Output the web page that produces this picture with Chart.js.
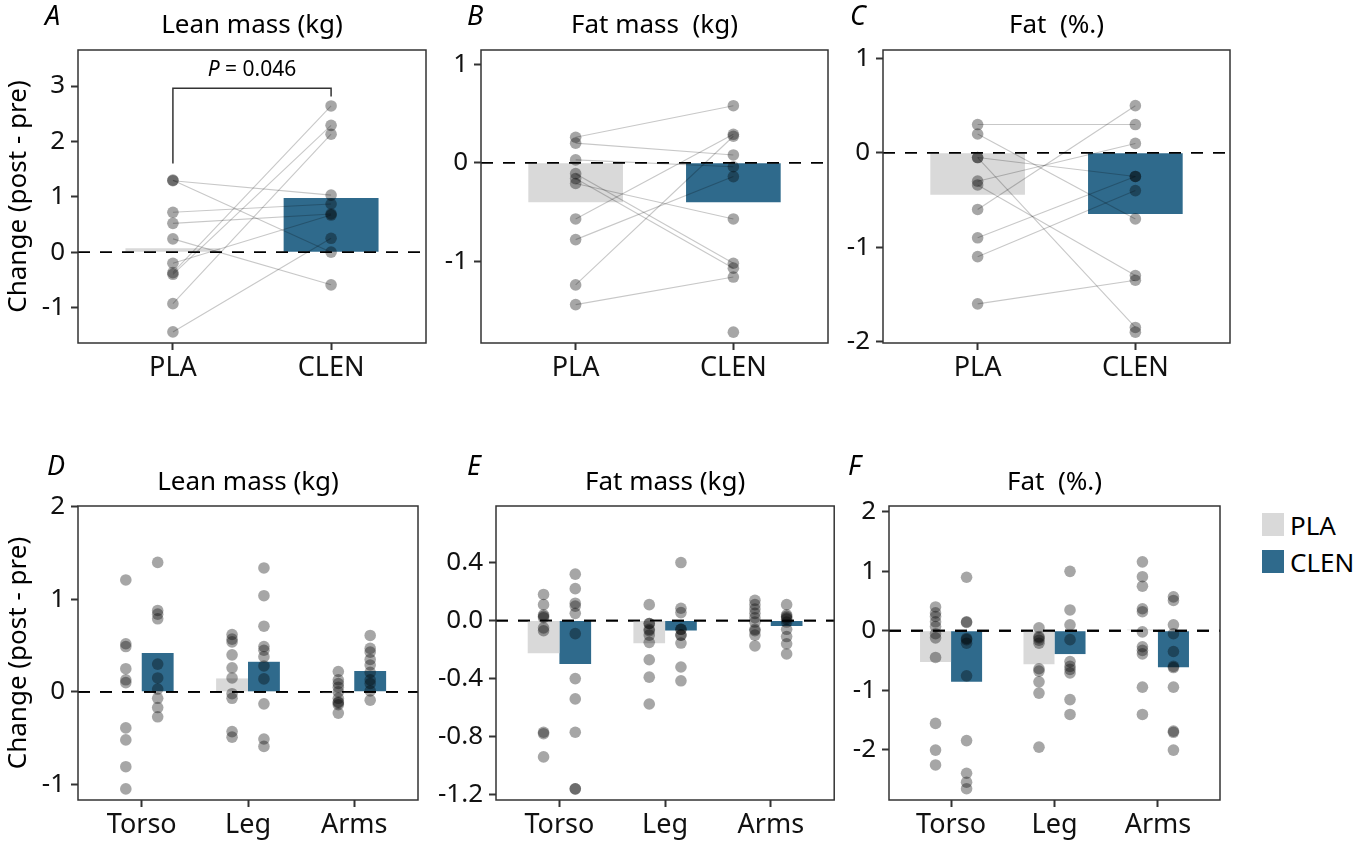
<!DOCTYPE html>
<html>
<head>
<meta charset="utf-8">
<title>Change in body composition, PLA vs CLEN</title>
<script src="https://cdn.jsdelivr.net/npm/chart.js@4.4.1/dist/chart.umd.min.js"></script>
<style>
  body { margin: 0; background: #fff; font-family: 'Noto Sans', sans-serif; }
  #page { position: relative; width: 1367px; height: 843px; overflow: hidden; }
  #page canvas { position: absolute; }
  .legend { position: absolute; left: 1262px; top: 513px; font-size: 26px; color: #000; }
  .legend .row { display: flex; align-items: center; height: 23px; margin-bottom: 14px; }
  .legend .key { width: 22px; height: 23px; margin-right: 6px; }
</style>
</head>
<body>
<div id="page">
  <canvas id="panelA" width="435" height="400" style="left:0px;top:0px"></canvas>
  <canvas id="panelB" width="400" height="400" style="left:435px;top:0px"></canvas>
  <canvas id="panelC" width="405" height="400" style="left:835px;top:0px"></canvas>
  <canvas id="panelD" width="430" height="403" style="left:0px;top:440px"></canvas>
  <canvas id="panelE" width="410" height="403" style="left:430px;top:440px"></canvas>
  <canvas id="panelF" width="390" height="403" style="left:840px;top:440px"></canvas>
  <div class="legend">
    <div class="row"><span class="key" style="background:#d9d9d9"></span>PLA</div>
    <div class="row"><span class="key" style="background:#2f6a8c"></span>CLEN</div>
  </div>
</div>
<script>
// groups and regions
const groups = ['PLA', 'CLEN'];
const regions = ['Torso', 'Leg', 'Arms'];

// whole body, paired by subject (null = no value)
const leanPla  = [1.29, 1.30, 0.72, 0.52, 0.24, -0.20, -0.37, -0.40, -0.93, -1.44];
const leanClen = [1.03, 0.00, 0.87, 0.69, -0.59, 0.67, 2.64, 2.29, 2.13, 0.25];
const leanMeans = [0.07, 0.98];

const fatMassPla  = [0.26, 0.20, 0.03, -0.11, -0.16, -0.21, -0.57, -0.78, -1.24, -1.44, null];
const fatMassClen = [0.58, 0.08, -0.04, -1.02, -1.07, -0.57, 0.29, -0.14, 0.27, -1.16, -1.72];
const fatMassMeans = [-0.40, -0.40];

const fatPctPla  = [0.30, 0.20, -0.05, -0.05, -0.30, -0.34, -0.60, -0.90, -1.10, -1.60, null];
const fatPctClen = [0.30, -0.70, -0.25, -1.85, 0.10, -1.30, 0.50, -0.25, -0.40, -1.35, -1.90];
const fatPctMeans = [-0.445, -0.647];

// P value for lean mass, bracket ends and top (kg)
const pValueLean = '0.046';
const bracketLean = [1.6, 2.96, 2.81];

// regional values: [Torso, Leg, Arms]
const regLeanPla = [
  [1.21, 0.52, 0.49, 0.25, 0.13, 0.10, -0.39, -0.52, -0.81, -1.05],
  [0.62, 0.57, 0.54, 0.40, 0.26, 0.15, -0.02, -0.07, -0.43, -0.49],
  [0.22, 0.13, 0.09, 0.05, 0.00, -0.07, -0.11, -0.12, -0.14, -0.23]
];
const regLeanClen = [
  [1.40, 0.88, 0.84, 0.79, 0.30, 0.15, 0.03, -0.07, -0.17, -0.27],
  [1.34, 1.04, 0.71, 0.49, 0.45, 0.38, 0.28, 0.14, -0.13, -0.51, -0.59],
  [0.61, 0.47, 0.43, 0.35, 0.29, 0.21, 0.13, 0.09, 0.01, -0.09]
];
const regLeanPlaMeans = [-0.005, 0.145, -0.015];
const regLeanClenMeans = [0.42, 0.325, 0.225];

const regFatPla = [
  [0.18, 0.11, 0.04, 0.03, 0.02, -0.05, -0.07, -0.77, -0.78, -0.94],
  [0.11, -0.02, -0.02, -0.06, -0.07, -0.10, -0.15, -0.27, -0.39, -0.575],
  [0.14, 0.11, 0.08, 0.05, 0.02, -0.01, -0.06, -0.07, -0.10, -0.175]
];
const regFatClen = [
  [0.32, 0.22, 0.12, 0.10, 0.05, -0.09, -0.40, -0.54, -0.77, -1.16, -1.16],
  [0.40, 0.085, 0.055, -0.06, -0.06, -0.10, -0.10, -0.155, -0.32, -0.415],
  [0.11, 0.04, 0.03, 0.02, 0.01, -0.01, -0.06, -0.11, -0.16, -0.23]
];
const regFatPlaMeans = [-0.225, -0.156, 0.0];
const regFatClenMeans = [-0.30, -0.069, -0.037];

const regPctPla = [
  [0.40, 0.30, 0.24, 0.15, 0.07, -0.05, -0.12, -0.45, -1.56, -2.01, -2.26],
  [0.05, -0.10, -0.12, -0.16, -0.21, -0.64, -0.68, -0.86, -1.05, -1.96],
  [1.16, 0.91, 0.75, 0.37, 0.32, -0.02, -0.27, -0.33, -0.39, -0.95, -1.41]
];
const regPctClen = [
  [0.90, 0.15, 0.14, -0.13, -0.15, -0.21, -0.76, -1.85, -2.40, -2.55, -2.66],
  [1.00, 0.35, 0.10, -0.15, -0.52, -0.60, -0.65, -0.71, -1.16, -1.41],
  [0.57, 0.51, 0.10, -0.05, -0.35, -0.60, -0.62, -0.95, -1.69, -1.71, -2.01]
];
const regPctPlaMeans = [-0.527, -0.566, 0.02];
const regPctClenMeans = [-0.858, -0.393, -0.617];

const PLA_GREY = '#d9d9d9';
const CLEN_BLUE = '#2f6a8c';
const DOT = 'rgba(0, 0, 0, 0.35)';
const LINK = 'rgba(0, 0, 0, 0.22)';
const INK = '#333333';
const dodge = 0.15;

Chart.defaults.font.family = "'Noto Sans', sans-serif";
Chart.defaults.color = '#111111';

// dashed zero line above bars, box, title and panel letter
const panelDecor = {
  id: 'panelDecor',
  afterDatasetDraw(chart, args) {
    if (args.meta.type !== 'bar') return;
    const { ctx, chartArea } = chart;
    const y0 = chart.scales.y.getPixelForValue(0);
    ctx.save();
    ctx.beginPath();
    ctx.setLineDash([12, 10]);
    ctx.lineWidth = 1.9;
    ctx.strokeStyle = '#000';
    ctx.moveTo(chartArea.left, y0);
    ctx.lineTo(chartArea.right, y0);
    ctx.stroke();
    ctx.restore();
  },
  afterDraw(chart, args, opts) {
    const { ctx, chartArea } = chart;
    ctx.save();
    ctx.strokeStyle = INK;
    ctx.lineWidth = 1.5;
    ctx.strokeRect(chartArea.left, chartArea.top, chartArea.right - chartArea.left, chartArea.bottom - chartArea.top);
    ctx.fillStyle = '#000';
    ctx.textBaseline = 'alphabetic';
    ctx.textAlign = 'center';
    ctx.font = "26px 'Noto Sans'";
    ctx.fillText(opts.title, (chartArea.left + chartArea.right) / 2, opts.titleY);
    ctx.textAlign = 'left';
    ctx.font = "italic 27px 'Noto Sans'";
    ctx.fillText(opts.letter, opts.letterX, opts.letterY);
    ctx.restore();
  }
};

// significance bracket for panel A
const pBracket = {
  id: 'pBracket',
  afterDatasetsDraw(chart) {
    const { ctx } = chart;
    const x = chart.scales.x, y = chart.scales.y;
    const xl = x.getPixelForValue(1), xr = x.getPixelForValue(2);
    const yTop = y.getPixelForValue(bracketLean[1]);
    ctx.save();
    ctx.strokeStyle = INK;
    ctx.lineWidth = 1.5;
    ctx.beginPath();
    ctx.moveTo(xl, y.getPixelForValue(bracketLean[0]));
    ctx.lineTo(xl, yTop);
    ctx.lineTo(xr, yTop);
    ctx.lineTo(xr, y.getPixelForValue(bracketLean[2]));
    ctx.stroke();

    const italic = "italic 21px 'Noto Sans'";
    const plain = "21px 'Noto Sans'";
    const rest = ' = ' + pValueLean;
    ctx.font = italic;
    const wP = ctx.measureText('P').width;
    ctx.font = plain;
    const wRest = ctx.measureText(rest).width;
    let tx = x.getPixelForValue(1.5) - (wP + wRest) / 2;
    const ty = yTop - 12;
    ctx.fillStyle = '#000';
    ctx.textAlign = 'left';
    ctx.textBaseline = 'alphabetic';
    ctx.font = italic;
    ctx.fillText('P', tx, ty);
    ctx.font = plain;
    ctx.fillText(rest, tx + wP, ty);
    ctx.restore();
  }
};

function dots(points) {
  return {
    type: 'scatter',
    data: points,
    order: 0,
    pointRadius: 5.8,
    pointHoverRadius: 5.8,
    pointBackgroundColor: DOT,
    pointBorderWidth: 0
  };
}

function pairedDatasets(pla, clen, means) {
  const sets = [{
    type: 'bar',
    data: means.map((m, i) => ({ x: i + 1, y: m })),
    backgroundColor: [PLA_GREY, CLEN_BLUE],
    borderWidth: 0,
    order: 2
  }];
  pla.forEach((p, i) => {
    if (p === null || clen[i] === null) return;
    sets.push({
      type: 'line',
      data: [{ x: 1, y: p }, { x: 2, y: clen[i] }],
      borderColor: LINK,
      borderWidth: 1.1,
      pointRadius: 0,
      order: 1
    });
  });
  sets.push(dots(pla.filter(v => v !== null).map(v => ({ x: 1, y: v }))));
  sets.push(dots(clen.filter(v => v !== null).map(v => ({ x: 2, y: v }))));
  return sets;
}

function regionDatasets(pla, clen, plaMeans, clenMeans) {
  const bar = (means, color) => ({
    type: 'bar',
    data: means.map((m, i) => ({ x: i + 1, y: m })),
    backgroundColor: color,
    borderWidth: 0,
    order: 2
  });
  return [
    bar(plaMeans, PLA_GREY),
    bar(clenMeans, CLEN_BLUE),
    dots(pla.flatMap((vals, i) => vals.map(v => ({ x: i + 1 - dodge, y: v })))),
    dots(clen.flatMap((vals, i) => vals.map(v => ({ x: i + 1 + dodge, y: v }))))
  ];
}

function makePanel(id, cfg) {
  const cats = cfg.cats;
  const tickGrid = {
    display: true,
    offset: false,
    drawOnChartArea: false,
    drawTicks: true,
    tickLength: 7,
    tickWidth: 2,
    tickColor: INK
  };
  return new Chart(document.getElementById(id), {
    type: 'bar',
    data: { datasets: cfg.datasets },
    options: {
      responsive: false,
      animation: false,
      events: [],
      layout: { padding: { top: cfg.top, right: cfg.right, left: 0, bottom: 0 } },
      datasets: { bar: { categoryPercentage: 0.6, barPercentage: 1 } },
      plugins: {
        legend: { display: false },
        tooltip: { enabled: false },
        panelDecor: { title: cfg.title, titleY: cfg.titleY, letter: cfg.letter, letterX: cfg.letterX, letterY: cfg.letterY }
      },
      scales: {
        x: {
          type: 'linear',
          offset: false,
          min: 0.4,
          max: cats.length + 0.6,
          afterBuildTicks: s => { s.ticks = cats.map((c, i) => ({ value: i + 1 })); },
          afterFit: s => { s.height = cfg.xHeight; },
          ticks: { callback: v => cats[Math.round(v) - 1], font: { size: 27 }, padding: 2, color: '#111' },
          grid: tickGrid,
          border: { display: false }
        },
        y: {
          min: cfg.yMin,
          max: cfg.yMax,
          afterFit: s => { s.width = cfg.yWidth; },
          ticks: {
            stepSize: cfg.step,
            includeBounds: false,
            font: { size: 26 },
            padding: 6,
            color: '#111',
            callback: v => Math.abs(v) < 1e-9 ? (cfg.decimals ? '0.0' : '0') : v.toFixed(cfg.decimals)
          },
          grid: tickGrid,
          border: { display: false },
          title: {
            display: !!cfg.yTitle,
            text: cfg.yTitle || '',
            color: '#000',
            font: { size: 26 },
            padding: { top: 3, bottom: 0 }
          }
        }
      }
    },
    plugins: cfg.extra ? [panelDecor, cfg.extra] : [panelDecor]
  });
}

document.addEventListener('DOMContentLoaded', function() {
  const yLabel = 'Change (post - pre)';

  makePanel('panelA', {
    cats: groups, datasets: pairedDatasets(leanPla, leanClen, leanMeans),
    yMin: -1.64, yMax: 3.65, step: 1, decimals: 0, yTitle: yLabel,
    top: 50, right: 9, yWidth: 78, xHeight: 57,
    title: 'Lean mass (kg)', titleY: 33, letter: 'A', letterX: 45, letterY: 25,
    extra: pBracket
  });
  makePanel('panelB', {
    cats: groups, datasets: pairedDatasets(fatMassPla, fatMassClen, fatMassMeans),
    yMin: -1.83, yMax: 1.146, step: 1, decimals: 0,
    top: 50, right: 7, yWidth: 46, xHeight: 57,
    title: 'Fat mass  (kg)', titleY: 33, letter: 'B', letterX: 32, letterY: 25
  });
  makePanel('panelC', {
    cats: groups, datasets: pairedDatasets(fatPctPla, fatPctClen, fatPctMeans),
    yMin: -2.015, yMax: 1.09, step: 1, decimals: 0,
    top: 50, right: 10, yWidth: 48, xHeight: 57,
    title: 'Fat  (%.)', titleY: 33, letter: 'C', letterX: 15, letterY: 25
  });
  makePanel('panelD', {
    cats: regions, datasets: regionDatasets(regLeanPla, regLeanClen, regLeanPlaMeans, regLeanClenMeans),
    yMin: -1.17, yMax: 2.01, step: 1, decimals: 0, yTitle: yLabel,
    top: 66, right: 12, yWidth: 78, xHeight: 43,
    title: 'Lean mass (kg)', titleY: 50, letter: 'D', letterX: 47, letterY: 35
  });
  makePanel('panelE', {
    cats: regions, datasets: regionDatasets(regFatPla, regFatClen, regFatPlaMeans, regFatClenMeans),
    yMin: -1.237, yMax: 0.79, step: 0.4, decimals: 1,
    top: 66, right: 4, yWidth: 66, xHeight: 43,
    title: 'Fat mass (kg)', titleY: 50, letter: 'E', letterX: 37, letterY: 35
  });
  makePanel('panelF', {
    cats: regions, datasets: regionDatasets(regPctPla, regPctClen, regPctPlaMeans, regPctClenMeans),
    yMin: -2.85, yMax: 2.10, step: 1, decimals: 0,
    top: 66, right: 10, yWidth: 49, xHeight: 43,
    title: 'Fat  (%.)', titleY: 50, letter: 'F', letterX: 8, letterY: 35
  });
});
</script>
</body>
</html>
